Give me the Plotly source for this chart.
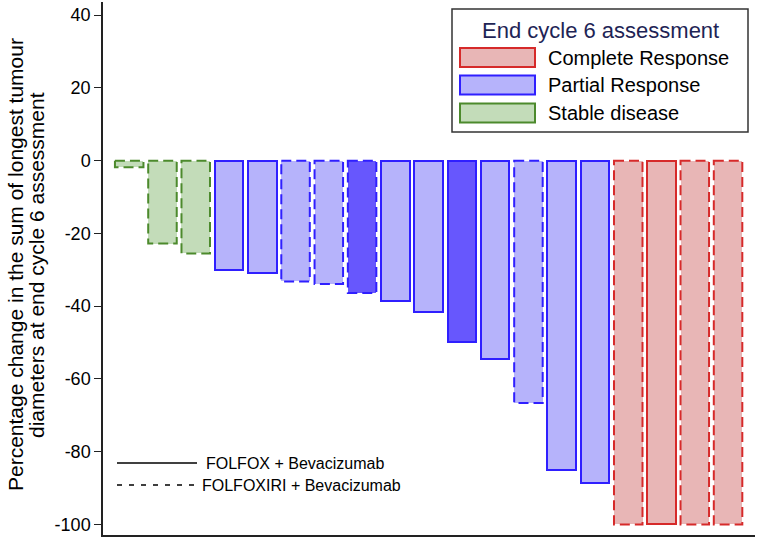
import plotly.graph_objects as go

# ---- data ----
patients = list(range(1, 20))
pct_change = [-1.8, -22.8, -25.5, -30.1, -30.8, -33.2, -33.9, -36.4, -38.7, -41.7,
              -49.8, -54.4, -66.6, -84.9, -88.6, -100, -100, -100, -100]
response = ["SD", "SD", "SD", "PR", "PR", "PR", "PR", "PR", "PR", "PR",
            "PR", "PR", "PR", "PR", "PR", "CR", "CR", "CR", "CR"]
regimen = ["FOLFOXIRI", "FOLFOXIRI", "FOLFOXIRI", "FOLFOX", "FOLFOX", "FOLFOXIRI",
           "FOLFOXIRI", "FOLFOXIRI", "FOLFOX", "FOLFOX", "FOLFOX", "FOLFOX",
           "FOLFOXIRI", "FOLFOX", "FOLFOX", "FOLFOXIRI", "FOLFOX", "FOLFOXIRI", "FOLFOXIRI"]
highlight = [False] * 7 + [True] + [False] * 2 + [True] + [False] * 8
y_ticks = [-100, -80, -60, -40, -20, 0, 20, 40]
y_tick_labels = ["-100", "-80", "-60", "-40", "-20", "0", "20", "40"]
legend_labels = {"CR": "Complete Response", "PR": "Partial Response", "SD": "Stable disease"}
regimen_labels = ["FOLFOX + Bevacizumab", "FOLFOXIRI + Bevacizumab"]

# ---- styles ----
FILL = {"CR": "#e8b6b6", "PR": "#b6b3fb", "SD": "#c3dcb9"}
FILL_DARK = {"PR": "#6757fd"}
LINE = {"CR": "#d62a2a", "PR": "#2f1fff", "SD": "#4c8a2c"}
BAR_W = 0.857
DASH = "10px,5px"

W, H = 757, 539
L, R, T, B = 103, 755, 2, 535


def px(xp):
    return (xp - L) / (R - L)


def py(yp):
    return (B - yp) / (B - T)


fills = [FILL_DARK[r] if h else FILL[r] for r, h in zip(response, highlight)]
lcols = [LINE[r] for r in response]
lwid = [2 if g == "FOLFOX" else 0 for g in regimen]

fig = go.Figure()
fig.add_trace(go.Bar(
    x=patients, y=pct_change, width=BAR_W,
    marker=dict(color=fills, line=dict(color=lcols, width=lwid)),
    showlegend=False, hoverinfo="y",
))

shapes = []
for xi, yi, r, g in zip(patients, pct_change, response, regimen):
    if g != "FOLFOX":
        shapes.append(dict(type="rect", xref="x", yref="y",
                           x0=xi - BAR_W / 2, x1=xi + BAR_W / 2, y0=0, y1=yi,
                           line=dict(color=LINE[r], width=2, dash=DASH),
                           fillcolor="rgba(0,0,0,0)", layer="above"))

annotations = []
# legend box
shapes.append(dict(type="rect", xref="paper", yref="paper",
                   x0=px(452), x1=px(748), y0=py(132), y1=py(9),
                   line=dict(color="#333333", width=1.5), fillcolor="white"))
annotations.append(dict(xref="paper", yref="paper", x=px(600), y=py(30),
                        text="End cycle 6 assessment", showarrow=False,
                        xanchor="center", yanchor="middle",
                        font=dict(size=22, color="#1e2455")))
for key, yc in zip(["CR", "PR", "SD"], [57.5, 85, 113]):
    shapes.append(dict(type="rect", xref="paper", yref="paper",
                       x0=px(460), x1=px(535), y0=py(yc + 9.5), y1=py(yc - 9.5),
                       line=dict(color=LINE[key], width=2), fillcolor=FILL[key]))
    annotations.append(dict(xref="paper", yref="paper", x=px(546), y=py(yc),
                            text=legend_labels[key], showarrow=False,
                            xanchor="left", yanchor="middle",
                            font=dict(size=20, color="black")))

# regimen key
for lab, yc, d, tx in zip(regimen_labels, [463, 485], ["solid", "5px,7px"], [204, 200]):
    shapes.append(dict(type="line", xref="paper", yref="paper",
                       x0=px(117), x1=px(197), y0=py(yc), y1=py(yc),
                       line=dict(color="black", width=1.3, dash=d)))
    annotations.append(dict(xref="paper", yref="paper", x=px(tx), y=py(yc),
                            text=lab, showarrow=False,
                            xanchor="left", yanchor="middle",
                            font=dict(size=16, color="black")))

# y axis title (two lines)
for txt, xc in zip(["Percentage change in the sum of longest tumour",
                    "diameters at end cycle 6 assessment"], [15, 36]):
    annotations.append(dict(xref="paper", yref="paper", x=px(xc), y=py(265),
                            text=txt, showarrow=False, textangle=-90,
                            xanchor="center", yanchor="middle",
                            font=dict(size=21, color="black")))

fig.update_layout(
    width=W, height=H, autosize=False,
    margin=dict(l=L, r=W - R, t=T, b=H - B, pad=0),
    paper_bgcolor="white", plot_bgcolor="white",
    font=dict(family="Liberation Sans, Arial, sans-serif", color="black"),
    shapes=shapes, annotations=annotations,
    xaxis=dict(range=[0.2125, 19.81], showline=True, linecolor="#222222", linewidth=1.5,
               showticklabels=False, ticks="", showgrid=False, zeroline=False),
    yaxis=dict(range=[-102.9, 43.6], tickvals=y_ticks, ticktext=y_tick_labels,
               ticks="outside", ticklen=7, tickcolor="#222222", tickwidth=1.2,
               showline=True, linecolor="#222222", linewidth=1.5,
               showgrid=False, zeroline=False, tickfont=dict(size=18, color="black")),
    bargap=0,
)

fig.write_html("out.html", config={"displayModeBar": False},
               post_script="document.body.style.margin='0';")
